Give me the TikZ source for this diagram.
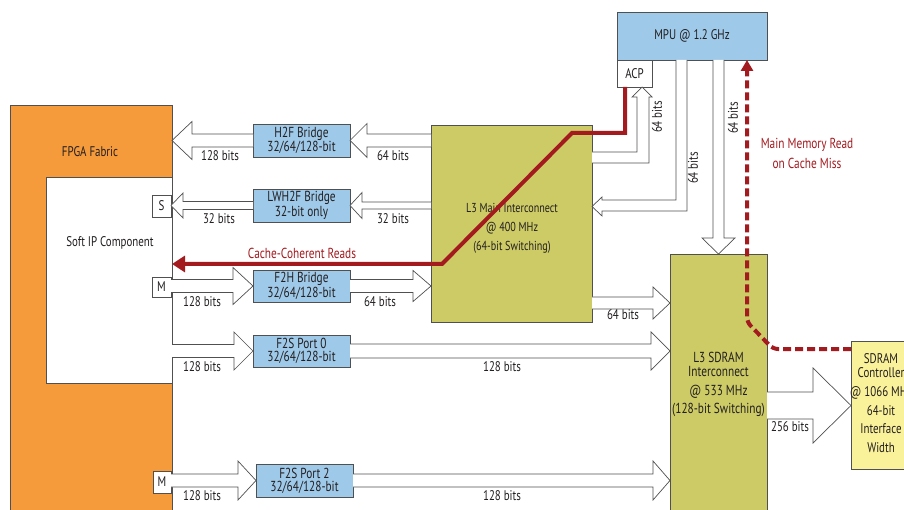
\documentclass[tikz,border=0pt]{standalone}
\usepackage{fontspec}
\setmainfont{PT Sans}[FakeStretch=0.78]
\usetikzlibrary{calc,arrows.meta}
\definecolor{fpga}{HTML}{F59B3B}
\definecolor{bridge}{HTML}{9FC9E9}
\definecolor{olive}{HTML}{CDCB66}
\definecolor{sdram}{HTML}{FAF29A}
\definecolor{cred}{HTML}{A31A1F}
\definecolor{edge}{HTML}{505050}
\definecolor{txt}{HTML}{231F20}
\newcommand\hfat[5]{\draw[fat] let \p1=#1, \p2=#2 in
 ({\x1},{\y2+#3pt}) -- ({\x2-(#5pt)},{\y2+#3pt}) -- ({\x2-(#5pt)},{\y2+#4pt}) -- (\p2)
 -- ({\x2-(#5pt)},{\y2-#4pt}) -- ({\x2-(#5pt)},{\y2-#3pt}) -- ({\x1},{\y2-#3pt});}
\begin{document}
\begin{tikzpicture}[x=1pt,y=-1pt,
  font=\fontsize{14}{13}\selectfont,
  blk/.style={draw=edge, line width=0.9pt, inner sep=0pt, outer sep=0pt, anchor=north west, text=txt, align=center},
  brg/.style={blk, fill=bridge, minimum width=97pt, font=\fontsize{14.5}{13}\selectfont},
  fat/.style={draw=edge, line width=0.7pt, fill=white, line join=miter},
  lbl/.style={inner sep=0pt, text=txt},
  rlbl/.style={inner sep=0pt, text=cred, align=center, font=\fontsize{14.5}{20}\selectfont},
  redline/.style={draw=cred, line width=4pt},
]
\useasboundingbox (0,0) rectangle (904,510);
\clip (0,0) rectangle (904,510);

% FPGA side
\node[blk, fill=fpga, minimum width=162pt, minimum height=420pt] (fpga) at (10,105) {};
\node[lbl] (fpgalbl) at (90,152) {FPGA Fabric};
\node[blk, fill=white, minimum width=126pt, minimum height=206pt] (soft) at (46,177) {};
\node[lbl] (softlbl) at (110,243) {Soft IP Component};
\node[blk, fill=white, minimum width=19pt, minimum height=22pt] (S) at (152,195) {S};
\node[blk, fill=white, minimum width=19pt, minimum height=20pt] (M1) at (152,277) {M};
\node[blk, fill=white, minimum width=18pt, minimum height=22pt] (M2) at (153,471) {M};

% bridges
\node[brg, minimum height=33pt] (h2f) at (253,124) {H2F Bridge\\32/64/128-bit};
\node[brg, minimum height=33pt] (lwh2f) at (253,189) {LWH2F Bridge\\32-bit only};
\node[brg, minimum height=32pt] (f2h) at (253,270) {F2H Bridge\\32/64/128-bit};
\node[brg, minimum height=32pt] (f2s0) at (253,335) {F2S Port 0\\32/64/128-bit};
\node[brg, minimum height=33pt] (f2s2) at (256,464) {F2S Port 2\\32/64/128-bit};

% interconnects
\node[blk, fill=olive, minimum width=161pt, minimum height=197pt] (l3m) at (431,125) {};
\node[lbl, align=center, font=\fontsize{13}{19}\selectfont] (l3mlbl) at (512,228) {L3 Main Interconnect\\@ 400 MHz\\(64-bit Switching)};
\node[blk, fill=bridge, minimum width=150pt, minimum height=48pt, font=\fontsize{14}{14}\selectfont] (mpu) at (617,12) {MPU @ 1.2 GHz};
\node[blk, fill=white, minimum width=35pt, minimum height=27pt] (acp) at (617,60) {ACP};
\node[blk, fill=olive, minimum width=97pt, minimum height=270pt] (l3s) at (670,254) {};
\node[lbl, align=center, font=\fontsize{14.5}{14}\selectfont] (l3slbl) at (718.5,384) {L3 SDRAM\\Interconnect\\[5pt]@ 533 MHz\\[4pt](128-bit Switching)};
\node[blk, fill=sdram, minimum width=70pt, minimum height=128pt] (ctrl) at (851,341) {};
\node[lbl, align=center, font=\fontsize{14}{18.7}\selectfont] (ctrllbl) at (881,403) {SDRAM\\[-4pt]Controller\\@ 1066 MHz\\64-bit\\Interface\\Width};

% fat arrows, horizontal
\hfat{(h2f.west)}{(fpga.east|-h2f.west)}{6.5}{19}{-20}
\hfat{(l3m.west|-h2f.east)}{(h2f.east)}{6.5}{17}{-17}
\hfat{(lwh2f.west)}{(S.east|-lwh2f.west)}{4}{12.5}{-12}
\hfat{(l3m.west|-lwh2f.east)}{(lwh2f.east)}{3.5}{13}{-12}
\hfat{(M1.east|-f2h.west)}{(f2h.west)}{6.5}{18.5}{20}
\hfat{(f2h.east)}{(l3m.west|-f2h.east)}{6.5}{15.5}{18}
\hfat{(soft.east|-f2s0.west)}{(f2s0.west)}{6.5}{19}{19}
\hfat{(f2s0.east)}{(l3s.west|-f2s0.east)}{7}{19}{19}
\hfat{(M2.east|-f2s2.west)}{(f2s2.west)}{6.5}{19.5}{18}
\hfat{(f2s2.east)}{(l3s.west|-f2s2.east)}{6.5}{19.5}{17}
\coordinate (m2s) at ($(l3m.south east)+(0,-19)$);
\hfat{(m2s)}{(l3s.west|-m2s)}{6}{16}{17}
\coordinate (s2c) at ($(ctrl.north west)+(0,64.5)$);
\hfat{(l3s.east|-s2c)}{(s2c)}{13.5}{37.5}{38}

% fat arrows to/from MPU
\draw[fat] (l3m.east|-0,152) -- (637,152) -- (637,97) -- (632,97) -- (642,87) -- (652,97) -- (649,97) -- (649,163) -- (l3m.east|-0,163);
\draw[fat] (mpu.south-|676,0) -- (676,200) -- (602,200) -- (602,197) -- (l3m.east|-0,206.5) -- (602,216) -- (602,211) -- (687,211) -- (mpu.south-|687,0);
\draw[fat] (mpu.south-|713,0) -- (713,238) -- (702,238) -- (l3s.north) -- (735,238) -- (724,238) -- (mpu.south-|724,0);

% width labels
\node[lbl] (b1) at (220,156) {128 bits};
\node[lbl] (b2) at (393,156) {64 bits};
\node[lbl] (b3) at (219,219) {32 bits};
\node[lbl] (b4) at (393,219) {32 bits};
\node[lbl] (b5) at (202,302) {128 bits};
\node[lbl] (b6) at (380,302) {64 bits};
\node[lbl] (b7) at (202,367) {128 bits};
\node[lbl] (b8) at (502,367) {128 bits};
\node[lbl] (b9) at (202,496) {128 bits};
\node[lbl] (b10) at (502,496) {128 bits};
\node[lbl] (b11) at (623,315) {64 bits};
\node[lbl] (b12) at (790,427) {256 bits};
\node[lbl, rotate=90] (b13) at (657,117) {64 bits};
\node[lbl, rotate=90] (b14) at (693,168) {64 bits};
\node[lbl, rotate=90] (b15) at (733,118) {64 bits};

% red paths
\coordinate (cc1) at (625,133);
\coordinate (cc2) at (572,133);
\coordinate (cc3) at (442,264);
\draw[redline, -{Triangle[length=13pt,width=16pt]}] (acp.south-|625,0) -- (cc1) -- (cc2) -- (cc3) -- (soft.east|-cc3);
\node[rlbl] (ccr) at (302,253) {Cache-Coherent Reads};

\coordinate (mm1) at (773,349);
\coordinate (mm2) at (747,322);
\draw[redline, dash pattern=on 8pt off 4pt, rounded corners=5pt, -{Triangle[length=11pt,width=12pt]}] (ctrl.west|-mm1) -- (mm1) -- (mm2) -- (mpu.south-|mm2);
\node[rlbl] (mmr) at (807,153) {Main Memory Read\\on Cache Miss};
\end{tikzpicture}
\end{document}
